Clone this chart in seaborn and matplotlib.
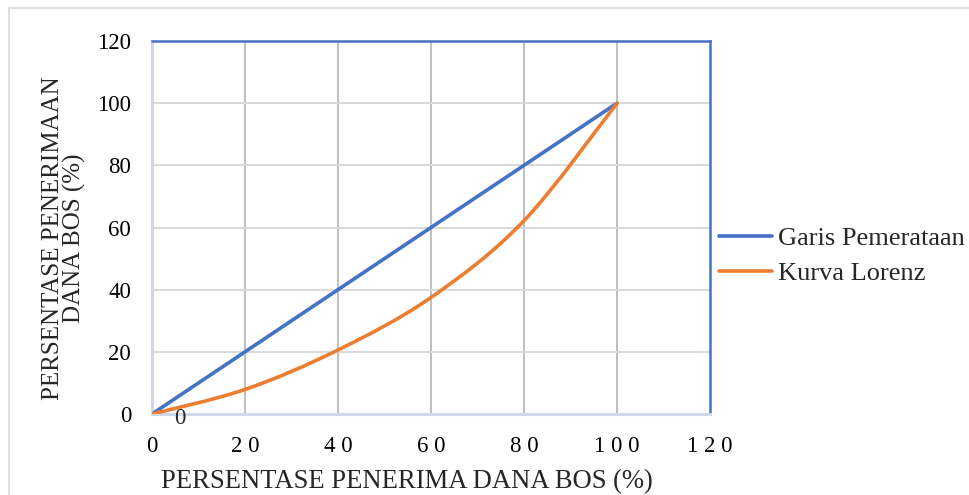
import matplotlib
matplotlib.use("Agg")
import matplotlib.pyplot as plt
from matplotlib.lines import Line2D
from matplotlib.path import Path
from matplotlib.patches import PathPatch
import numpy as np
import pandas as pd
import seaborn as sns

# Cumulative share of BOS recipients (%) and their cumulative share of funds (%)
recipients = [0, 20, 40, 60, 80, 100]
equality = [0, 20, 40, 60, 80, 100]
lorenz = [0, 7.9, 20.6, 37.5, 62.2, 100]

x_ticks = [0, 20, 40, 60, 80, 100, 120]
y_ticks = [0, 20, 40, 60, 80, 100, 120]

series_names = ["Garis Pemerataan", "Kurva Lorenz"]
colors = ["#4472C4", "#ED7D31"]

df_eq = pd.DataFrame({"x": recipients, "y": equality})

sns.set_theme(style="white")
plt.rcParams["font.family"] = ["Liberation Serif", "DejaVu Serif"]

W, H = 969, 495
fig = plt.figure(figsize=(W / 100, H / 100), dpi=100)
ax = fig.add_axes([152 / W, 1 - 414 / H, (710 - 152) / W, (414 - 41) / H])

LW = 2.6
sns.lineplot(data=df_eq, x="x", y="y", color=colors[0], linewidth=LW,
             ax=ax, sort=False, solid_capstyle="round", zorder=3)


def smooth_path(xs, ys):
    """Cubic Bezier path through the points (Catmull-Rom style smoothing)."""
    pts = np.column_stack([xs, ys]).astype(float)
    ext = np.vstack([pts[0], pts, pts[-1]])
    verts = [tuple(pts[0])]
    codes = [Path.MOVETO]
    for i in range(len(pts) - 1):
        p0, p1, p2, p3 = ext[i], ext[i + 1], ext[i + 2], ext[i + 3]
        c1 = p1 + (p2 - p0) / 6.0
        c2 = p2 - (p3 - p1) / 6.0
        verts += [tuple(c1), tuple(c2), tuple(p2)]
        codes += [Path.CURVE4] * 3
    return Path(verts, codes)


ax.add_patch(PathPatch(smooth_path(recipients, lorenz), facecolor="none",
                       edgecolor=colors[1], lw=LW, capstyle="round",
                       joinstyle="round", zorder=3))

ax.set_xlim(0, 120)
ax.set_ylim(0, 120)
ax.set_xticks(x_ticks)
ax.set_yticks(y_ticks)
ax.set_xticklabels([" ".join(str(t)) for t in x_ticks])
ax.set_yticklabels([str(t) for t in y_ticks])
ax.tick_params(axis="both", length=0, labelsize=16.5, colors="#000000")
ax.tick_params(axis="x", pad=16)
ax.tick_params(axis="y", pad=15)

# gridlines: darker verticals, lighter horizontals
ax.grid(False)
for xv in x_ticks[1:-1]:
    ax.axvline(xv, color="#BFBFBF", lw=1.4, zorder=1)
for yv in y_ticks[1:-1]:
    ax.axhline(yv, color="#D9D9D9", lw=1.4, zorder=1)

for side in ["top", "right"]:
    ax.spines[side].set_color("#4472C4")
    ax.spines[side].set_linewidth(1.8)
for side in ["left", "bottom"]:
    ax.spines[side].set_color("#CFD8EA")
    ax.spines[side].set_linewidth(2.2)

ax.set_xlabel("PERSENTASE PENERIMA DANA BOS (%)", fontsize=19.2)
ax.xaxis.set_label_coords(0.457, -0.149)
ax.set_ylabel("PERSENTASE PENERIMAAN\nDANA BOS (%)", fontsize=18,
              linespacing=0.95)
ax.yaxis.set_label_coords(-0.118, 0.472)

# data label at the origin of the Lorenz curve
ax.annotate(f"{lorenz[0]:g}", xy=(recipients[0], lorenz[0]),
            xytext=(28, -4), textcoords="offset pixels",
            ha="center", va="center", fontsize=16.5, annotation_clip=False)

handles = [Line2D([0], [0], color=c, lw=LW, solid_capstyle="round")
           for c in colors]
fig.legend(handles, series_names, loc="center left",
           bbox_to_anchor=(719 / W, 1 - 256 / H), frameon=False,
           fontsize=19, handlelength=2.0, handletextpad=0.25,
           labelspacing=0.42, borderaxespad=0, borderpad=0)

# thin chart-area border
fig.add_artist(Line2D([9 / W, 1], [1 - 8 / H, 1 - 8 / H],
                      transform=fig.transFigure, color="#D9D9D9", lw=1.2))
fig.add_artist(Line2D([9 / W, 9 / W], [0, 1 - 8 / H],
                      transform=fig.transFigure, color="#D9D9D9", lw=1.2))

fig.savefig("out.png", dpi=100)
